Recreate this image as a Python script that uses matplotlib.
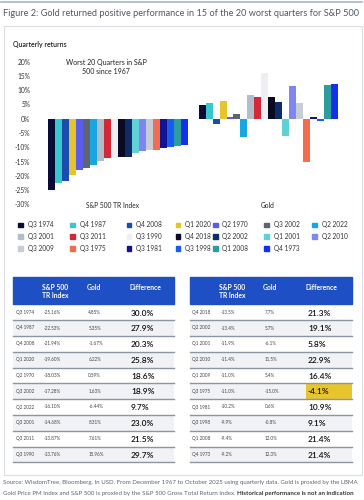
import numpy as np
import matplotlib
matplotlib.use("Agg")
import matplotlib.pyplot as plt
from matplotlib.patches import Rectangle

plt.rcParams['font.family'] = ['Lato', 'DejaVu Sans']

# data
quarters = ["Q3 1974", "Q4 1987", "Q4 2008", "Q1 2020", "Q2 1970", "Q3 2002", "Q2 2022",
            "Q3 2001", "Q3 2011", "Q3 1990", "Q4 2018", "Q2 2002", "Q1 2001", "Q2 2010",
            "Q1 2009", "Q3 1975", "Q3 1981", "Q3 1998", "Q1 2008", "Q4 1973"]
legend_labels = quarters[:14] + ["Q3 2009"] + quarters[15:]
sp500 = [-25.16, -22.53, -21.94, -19.60, -18.03, -17.28, -16.10, -14.68, -13.87, -13.76,
         -13.5, -13.4, -11.9, -11.4, -11.0, -11.0, -10.2, -9.9, -9.4, -9.2]
gold = [4.85, 5.35, -1.67, 6.22, 0.59, 1.63, -6.44, 8.31, 7.61, 15.96,
        7.7, 5.7, -6.1, 11.5, 5.4, -15.0, 0.6, -0.8, 12.0, 12.3]
difference = [30.0, 27.9, 20.3, 25.8, 18.6, 18.9, 9.7, 23.0, 21.5, 29.7,
              21.3, 19.1, 5.8, 22.9, 16.4, -4.1, 10.9, 9.1, 21.4, 21.4]
sp_txt = ["-25.16%", "-22.53%", "-21.94%", "-19.60%", "-18.03%", "-17.28%", "-16.10%",
          "-14.68%", "-13.87%", "-13.76%", "-13.5%", "-13.4%", "-11.9%", "-11.4%",
          "-11.0%", "-11.0%", "-10.2%", "-9.9%", "-9.4%", "-9.2%"]
gold_txt = ["4.85%", "5.35%", "-1.67%", "6.22%", "0.59%", "1.63%", "-6.44%", "8.31%",
            "7.61%", "15.96%", "7.7%", "5.7%", "-6.1%", "11.5%", "5.4%", "-15.0%",
            "0.6%", "-0.8%", "12.0%", "12.3%"]
colors = ["#0b0c35", "#38c6cf", "#1b4cae", "#e6c52c", "#5a5cec", "#5c6570", "#19a5e2",
          "#b2bdca", "#d42836", "#eeeff2", "#0a0b22", "#0f2b68", "#5fd2d8", "#7f86f0",
          "#c6cdd6", "#f36c50", "#14128c", "#1a5cf2", "#2a9e9f", "#1330ea"]

W, H = 364, 500
fig = plt.figure(figsize=(W / 100, H / 100), dpi=100)

# pixel canvas for the furniture
bg = fig.add_axes([0, 0, 1, 1])
bg.set_xlim(0, W)
bg.set_ylim(H, 0)
bg.axis("off")

bg.plot([1, 362], [1.5, 1.5], color="#a8b6c9", lw=1.2)
bg.text(3, 13, "Figure 2: Gold returned positive performance in 15 of the 20 worst quarters for S&P 500",
        fontsize=6.55, color="#50575f", va="center", ha="left")
bg.add_patch(Rectangle((3.5, 25.5), 358, 449, fill=False, ec="#dadde1", lw=0.8))
bg.text(13, 45, "Quarterly returns", fontsize=5.0, color="#222222", va="center", fontweight="semibold")

# bar chart
ax = fig.add_axes([40 / W, 1 - 208 / H, 310 / W, 150 / H])
ax.patch.set_alpha(0)
x = np.arange(len(quarters))
ax.bar(x, sp500, width=1.0, color=colors)
ax.bar(x + 21.53, gold, width=1.0, color=colors)
ax.set_xlim(-1.69, 42.72)
ax.set_ylim(-31.3, 21.3)
ax.set_yticks(np.arange(-30, 21, 5))
ax.set_yticklabels([f"{v}%" for v in np.arange(-30, 21, 5)], fontsize=4.8, color="#333333")
ax.set_xticks([])
ax.tick_params(axis="y", length=0, pad=7)
for s in ax.spines.values():
    s.set_visible(False)

bg.text(106, 67.2, "Worst 20 Quarters in S&P\n500 since 1967", fontsize=5.0, color="#222222",
        ha="center", va="center", linespacing=1.35)
bg.text(112, 205, "S&P 500 TR Index", fontsize=4.8, color="#222222", ha="center", va="center")
bg.text(268, 205, "Gold", fontsize=4.8, color="#222222", ha="center", va="center")

# legend
leg_x = [18.3, 70, 126.7, 175.7, 213, 264.3, 312]
for i, (lab, c) in enumerate(zip(legend_labels, colors)):
    r, k = divmod(i, 7)
    y = 225 + r * 11.7
    bg.add_patch(Rectangle((leg_x[k], y - 2.3), 4.6, 4.6, color=c))
    bg.text(leg_x[k] + 9.5, y, lab, fontsize=4.7, color="#333333", va="center")

# tables
head_top, head_bot, row_h = 277.3, 304.3, 15.8
tables = [(13.3, 174.3, [2.4, 30.4, 75, 117.7]), (190.3, 352, [1.7, 30, 74.4, 117.7])]
for t, (x0, x1, cols) in enumerate(tables):
    bg.add_patch(Rectangle((x0, head_top), x1 - x0, head_bot - head_top, color="#1f4fc4"))
    bg.text(x0 + cols[1] - 1.5, 291.5, "S&P 500\nTR Index", color="white", fontsize=4.9,
            fontweight="bold", va="center", linespacing=1.3)
    bg.text(x0 + cols[2] - 2, 287.3, "Gold", color="white", fontsize=4.9, fontweight="bold", va="center")
    bg.text(x0 + cols[3] - 2, 287.3, "Difference", color="white", fontsize=4.9, fontweight="bold", va="center")
    for r in range(10):
        i = t * 10 + r
        y0 = head_bot + r * row_h
        yc = y0 + row_h / 2
        if r % 2 == 1:
            bg.add_patch(Rectangle((x0, y0), x1 - x0, row_h, color="#f1f2f5", lw=0))
        if difference[i] < 0:
            bg.add_patch(Rectangle((x0 + cols[3] - 2.5, y0 + 0.8), x1 - (x0 + cols[3] - 2.5), row_h - 0.8,
                                   color="#e8c52c", lw=0))
        bg.plot([x0, x1], [y0 + row_h, y0 + row_h], color="#8c95a3", lw=1.0)
        bg.text(x0 + cols[0], yc, quarters[i], fontsize=3.3, color="#444444", va="center")
        bg.text(x0 + cols[1], yc, sp_txt[i], fontsize=3.3, color="#444444", va="center")
        bg.text(x0 + cols[2], yc, gold_txt[i], fontsize=3.3, color="#444444", va="center")
        bg.text(x0 + cols[3], yc + 0.8, f"{difference[i]:.1f}%", fontsize=6.0, color="#111111",
                va="center", fontweight="semibold")

# footer
bg.text(3, 482.5, "Source: WisdomTree, Bloomberg. In USD. From December 1967 to October 2025 using quarterly data. "
        "Gold is proxied by the LBMA", fontsize=4.45, color="#5f6670", va="center")
t1 = bg.text(3, 493.5, "Gold Price PM Index and S&P 500 is proxied by the S&P 500 Gross Total Return Index. ",
             fontsize=4.45, color="#5f6670", va="center")
bg.annotate("Historical performance is not an indication", xycoords=t1, xy=(1, 0.5), va="center",
            fontsize=4.45, color="#333333", fontweight="bold")

fig.savefig("out.png", dpi=100)
